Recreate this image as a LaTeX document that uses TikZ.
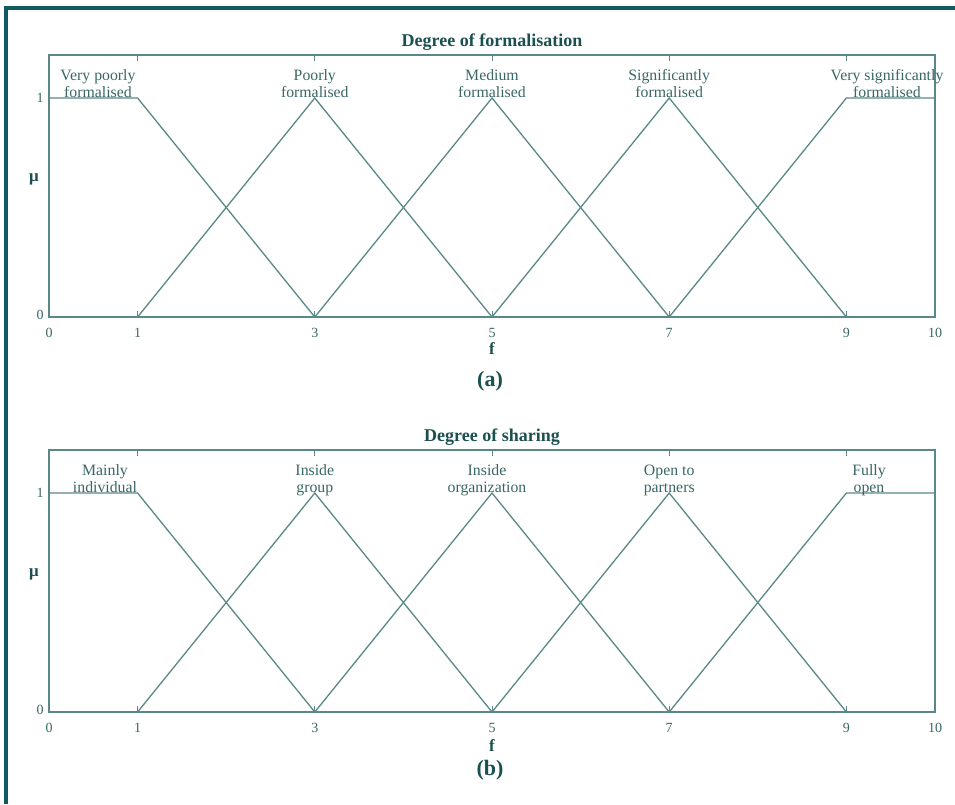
\documentclass[tikz,border=0pt]{standalone}
\usepackage{fontspec}
\setmainfont{Liberation Serif}
\definecolor{bordercol}{HTML}{0F5C5E}
\definecolor{linecol}{HTML}{5A8888}
\definecolor{txtcol}{HTML}{3A6666}
\definecolor{titlecol}{HTML}{1C5050}
\tikzset{
  mf/.style={draw=linecol, line width=1.3pt, line join=miter},
  axisbox/.style={draw=linecol, line width=1.1pt},
  tickline/.style={draw=linecol, line width=0.9pt},
  lbl/.style={text=txtcol, font=\fontsize{15.8}{17}\selectfont, align=center, anchor=base, inner sep=0pt},
  ticklbl/.style={text=txtcol, font=\fontsize{14}{16}\selectfont, inner sep=0pt},
  ttl/.style={text=titlecol, font=\fontsize{18}{20}\selectfont\bfseries, inner sep=0pt},
  axlbl/.style={text=titlecol, font=\fontsize{17}{19}\selectfont\bfseries, inner sep=0pt},
  caplbl/.style={text=titlecol, font=\fontsize{22}{24}\selectfont\bfseries, inner sep=0pt},
}
\begin{document}
\begin{tikzpicture}[x=1pt,y=-1pt]
\useasboundingbox[fill=white] (0,0) rectangle (955,804);
% frame
\fill[bordercol] (4,6) rectangle (955,9.5);
\fill[bordercol] (4,6) rectangle (7.5,804);

% ================= panel (a) =================
\begin{scope}
\coordinate (aBL) at (49,317);
\coordinate (aTR) at (935,55);
\draw[axisbox] (aBL) rectangle (aTR);
\foreach \xv in {137.6,314.8,492,669.2,846.4}{
  \draw[tickline] (\xv,55) -- (\xv,61);
  \draw[tickline] (\xv,317) -- (\xv,311);
}
\coordinate (a0) at (49,98);
\coordinate (a1t) at (137.6,98);
\coordinate (a1b) at (137.6,317);
\coordinate (a3t) at (314.8,98);
\coordinate (a3b) at (314.8,317);
\coordinate (a5t) at (492,98);
\coordinate (a5b) at (492,317);
\coordinate (a7t) at (669.2,98);
\coordinate (a7b) at (669.2,317);
\coordinate (a9t) at (846.4,98);
\coordinate (a9b) at (846.4,317);
\coordinate (a10) at (935,98);
\draw[mf] (a0) -- (a1t) -- (a3b);
\draw[mf] (a1b) -- (a3t) -- (a5b);
\draw[mf] (a3b) -- (a5t) -- (a7b);
\draw[mf] (a5b) -- (a7t) -- (a9b);
\draw[mf] (a7b) -- (a9t) -- (a10);
\node[ttl] (atitle) at (492,42) {Degree of formalisation};
\node[lbl] (aL1) at (98,97) {Very poorly\\formalised};
\node[lbl] (aL2) at (314.8,97) {Poorly\\formalised};
\node[lbl] (aL3) at (492,97) {Medium\\formalised};
\node[lbl] (aL4) at (669.2,97) {Significantly\\formalised};
\node[lbl] (aL5) at (887,97) {Very significantly\\formalised};
\node[ticklbl] (ay1) at (40,98) {1};
\node[ticklbl] (ay0) at (40,315) {0};
\node[ticklbl] (ax0) at (49,333) {0};
\node[ticklbl] (ax1) at (137.6,333) {1};
\node[ticklbl] (ax3) at (314.8,333) {3};
\node[ticklbl] (ax5) at (492,333) {5};
\node[ticklbl] (ax7) at (669.2,333) {7};
\node[ticklbl] (ax9) at (846.4,333) {9};
\node[ticklbl] (ax10) at (935,333) {10};
\node[axlbl] (amu) at (34,179) {μ};
\node[axlbl] (af) at (492,349) {f};
\node[caplbl] (acap) at (490,381) {(a)};
\end{scope}

% ================= panel (b) =================
\begin{scope}
\coordinate (bBL) at (49,712);
\coordinate (bTR) at (935,450);
\draw[axisbox] (bBL) rectangle (bTR);
\foreach \xv in {137.6,314.8,492,669.2,846.4}{
  \draw[tickline] (\xv,450) -- (\xv,456);
  \draw[tickline] (\xv,712) -- (\xv,706);
}
\coordinate (b0) at (49,493);
\coordinate (b1t) at (137.6,493);
\coordinate (b1b) at (137.6,712);
\coordinate (b3t) at (314.8,493);
\coordinate (b3b) at (314.8,712);
\coordinate (b5t) at (492,493);
\coordinate (b5b) at (492,712);
\coordinate (b7t) at (669.2,493);
\coordinate (b7b) at (669.2,712);
\coordinate (b9t) at (846.4,493);
\coordinate (b9b) at (846.4,712);
\coordinate (b10) at (935,493);
\draw[mf] (b0) -- (b1t) -- (b3b);
\draw[mf] (b1b) -- (b3t) -- (b5b);
\draw[mf] (b3b) -- (b5t) -- (b7b);
\draw[mf] (b5b) -- (b7t) -- (b9b);
\draw[mf] (b7b) -- (b9t) -- (b10);
\node[ttl] (btitle) at (492,437) {Degree of sharing};
\node[lbl] (bL1) at (105,492) {Mainly\\individual};
\node[lbl] (bL2) at (314.8,492) {Inside\\group};
\node[lbl] (bL3) at (487,492) {Inside\\organization};
\node[lbl] (bL4) at (669.2,492) {Open to\\partners};
\node[lbl] (bL5) at (869,492) {Fully\\open};
\node[ticklbl] (by1) at (40,493) {1};
\node[ticklbl] (by0) at (40,710) {0};
\node[ticklbl] (bx0) at (49,728) {0};
\node[ticklbl] (bx1) at (137.6,728) {1};
\node[ticklbl] (bx3) at (314.8,728) {3};
\node[ticklbl] (bx5) at (492,728) {5};
\node[ticklbl] (bx7) at (669.2,728) {7};
\node[ticklbl] (bx9) at (846.4,728) {9};
\node[ticklbl] (bx10) at (935,728) {10};
\node[axlbl] (bmu) at (34,574) {μ};
\node[axlbl] (bf) at (492,745) {f};
\node[caplbl] (bcap) at (490,770) {(b)};
\end{scope}
\end{tikzpicture}
\end{document}
